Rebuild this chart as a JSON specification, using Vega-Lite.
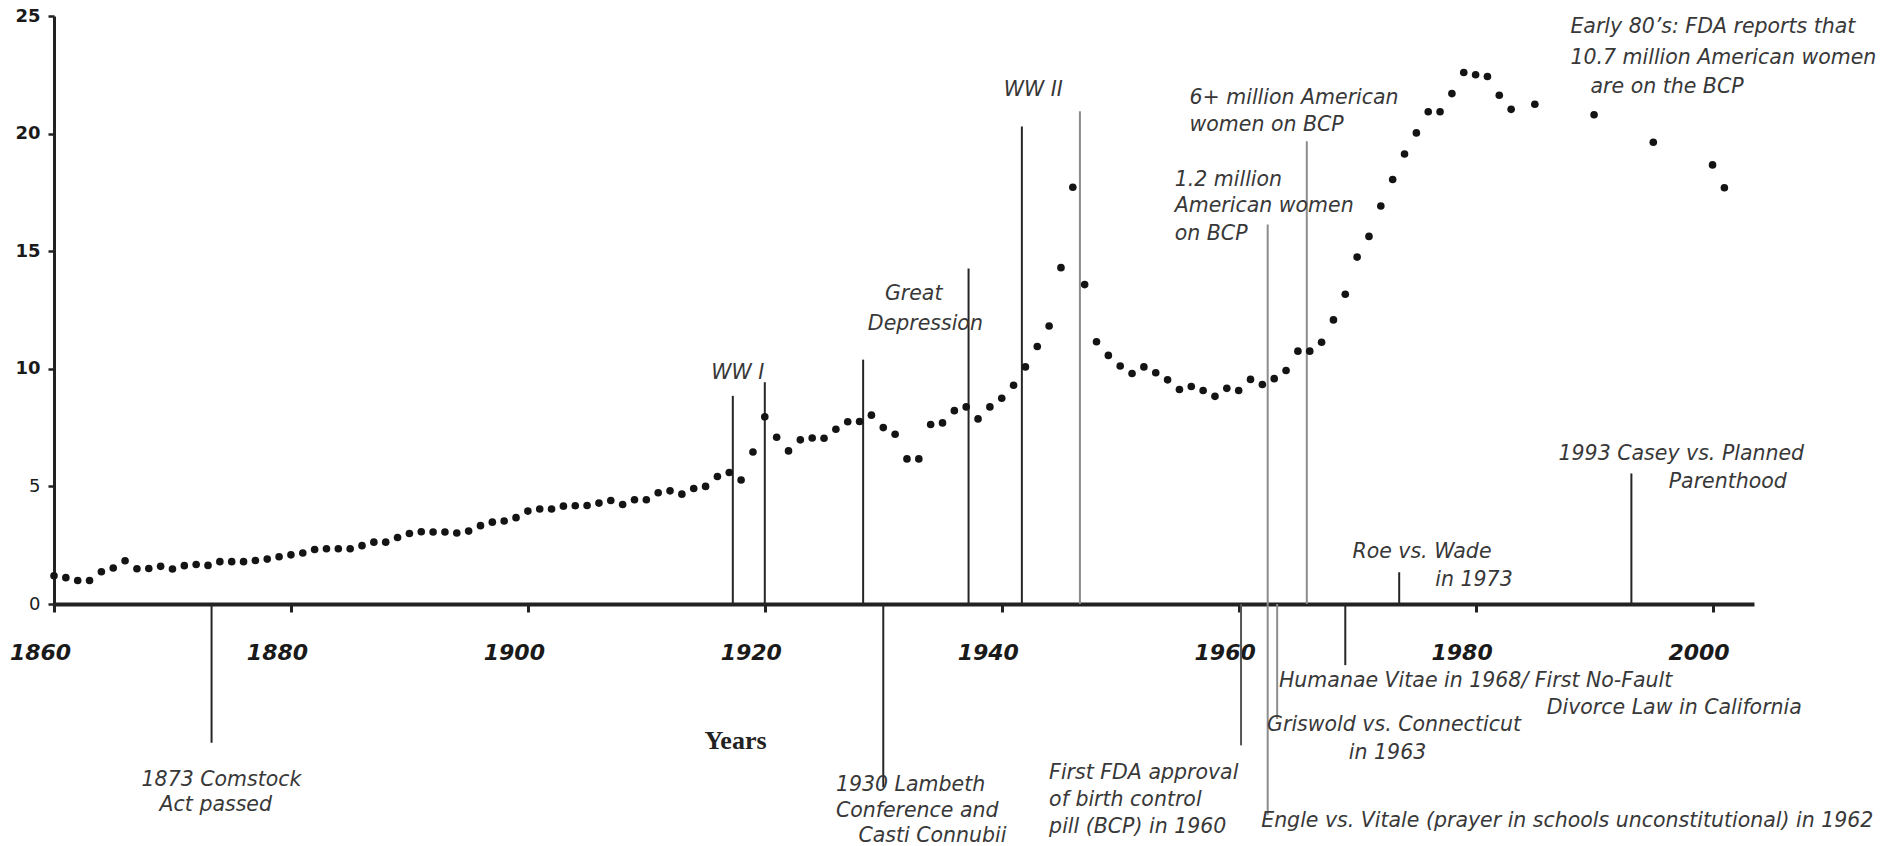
{
  "$schema": "https://vega.github.io/schema/vega-lite/v6.json",
  "width": 1700,
  "height": 588,
  "autosize": {"type": "none"},
  "padding": {"left": 54, "top": 16, "right": 126, "bottom": 242},
  "background": "white",
  "config": {"view": {"stroke": null}, "font": "DejaVu Sans"},
  "datasets": {
    "points": [
      {"year": 1860, "rate": 1.20}, {"year": 1861, "rate": 1.12}, {"year": 1862, "rate": 1.00}, {"year": 1863, "rate": 1.00},
      {"year": 1864, "rate": 1.37}, {"year": 1865, "rate": 1.53}, {"year": 1866, "rate": 1.84}, {"year": 1867, "rate": 1.50},
      {"year": 1868, "rate": 1.51}, {"year": 1869, "rate": 1.60}, {"year": 1870, "rate": 1.49}, {"year": 1871, "rate": 1.63},
      {"year": 1872, "rate": 1.68}, {"year": 1873, "rate": 1.64}, {"year": 1874, "rate": 1.80}, {"year": 1875, "rate": 1.80},
      {"year": 1876, "rate": 1.80}, {"year": 1877, "rate": 1.85}, {"year": 1878, "rate": 1.91}, {"year": 1879, "rate": 2.01},
      {"year": 1880, "rate": 2.09}, {"year": 1881, "rate": 2.17}, {"year": 1882, "rate": 2.32}, {"year": 1883, "rate": 2.35},
      {"year": 1884, "rate": 2.35}, {"year": 1885, "rate": 2.35}, {"year": 1886, "rate": 2.48}, {"year": 1887, "rate": 2.63},
      {"year": 1888, "rate": 2.63}, {"year": 1889, "rate": 2.83}, {"year": 1890, "rate": 3.00}, {"year": 1891, "rate": 3.07},
      {"year": 1892, "rate": 3.06}, {"year": 1893, "rate": 3.06}, {"year": 1894, "rate": 3.02}, {"year": 1895, "rate": 3.10},
      {"year": 1896, "rate": 3.33}, {"year": 1897, "rate": 3.48}, {"year": 1898, "rate": 3.53}, {"year": 1899, "rate": 3.67},
      {"year": 1900, "rate": 3.95}, {"year": 1901, "rate": 4.04}, {"year": 1902, "rate": 4.04}, {"year": 1903, "rate": 4.16},
      {"year": 1904, "rate": 4.18}, {"year": 1905, "rate": 4.19}, {"year": 1906, "rate": 4.29}, {"year": 1907, "rate": 4.40},
      {"year": 1908, "rate": 4.23}, {"year": 1909, "rate": 4.43}, {"year": 1910, "rate": 4.43}, {"year": 1911, "rate": 4.73},
      {"year": 1912, "rate": 4.81}, {"year": 1913, "rate": 4.67}, {"year": 1914, "rate": 4.91}, {"year": 1915, "rate": 5.00},
      {"year": 1916, "rate": 5.42}, {"year": 1917, "rate": 5.59}, {"year": 1918, "rate": 5.27}, {"year": 1919, "rate": 6.46},
      {"year": 1920, "rate": 7.96}, {"year": 1921, "rate": 7.09}, {"year": 1922, "rate": 6.51}, {"year": 1923, "rate": 6.98},
      {"year": 1924, "rate": 7.06}, {"year": 1925, "rate": 7.05}, {"year": 1926, "rate": 7.43}, {"year": 1927, "rate": 7.75},
      {"year": 1928, "rate": 7.76}, {"year": 1929, "rate": 8.03}, {"year": 1930, "rate": 7.50}, {"year": 1931, "rate": 7.22},
      {"year": 1932, "rate": 6.17}, {"year": 1933, "rate": 6.17}, {"year": 1934, "rate": 7.63}, {"year": 1935, "rate": 7.70},
      {"year": 1936, "rate": 8.22}, {"year": 1937, "rate": 8.38}, {"year": 1938, "rate": 7.87}, {"year": 1939, "rate": 8.38},
      {"year": 1940, "rate": 8.75}, {"year": 1941, "rate": 9.30}, {"year": 1942, "rate": 10.08}, {"year": 1943, "rate": 10.95},
      {"year": 1944, "rate": 11.82}, {"year": 1945, "rate": 14.30}, {"year": 1946, "rate": 17.72}, {"year": 1947, "rate": 13.58},
      {"year": 1948, "rate": 11.15}, {"year": 1949, "rate": 10.57}, {"year": 1950, "rate": 10.12}, {"year": 1951, "rate": 9.80},
      {"year": 1952, "rate": 10.08}, {"year": 1953, "rate": 9.83}, {"year": 1954, "rate": 9.53}, {"year": 1955, "rate": 9.12},
      {"year": 1956, "rate": 9.25}, {"year": 1957, "rate": 9.08}, {"year": 1958, "rate": 8.83}, {"year": 1959, "rate": 9.17},
      {"year": 1960, "rate": 9.08}, {"year": 1961, "rate": 9.55}, {"year": 1962, "rate": 9.33}, {"year": 1963, "rate": 9.58},
      {"year": 1964, "rate": 9.93}, {"year": 1965, "rate": 10.75}, {"year": 1966, "rate": 10.75}, {"year": 1967, "rate": 11.13},
      {"year": 1968, "rate": 12.08}, {"year": 1969, "rate": 13.17}, {"year": 1970, "rate": 14.75}, {"year": 1971, "rate": 15.63},
      {"year": 1972, "rate": 16.92}, {"year": 1973, "rate": 18.05}, {"year": 1974, "rate": 19.13}, {"year": 1975, "rate": 20.03},
      {"year": 1976, "rate": 20.93}, {"year": 1977, "rate": 20.93}, {"year": 1978, "rate": 21.70}, {"year": 1979, "rate": 22.60},
      {"year": 1980, "rate": 22.50}, {"year": 1981, "rate": 22.43}, {"year": 1982, "rate": 21.63}, {"year": 1983, "rate": 21.03},
      {"year": 1985, "rate": 21.25}, {"year": 1990, "rate": 20.80}, {"year": 1995, "rate": 19.63}, {"year": 2000, "rate": 18.67},
      {"year": 2001, "rate": 17.70}
    ],
    "events": [
      {"year": 1873.3, "top": 0, "bottom": -5.9, "tone": "dark"},
      {"year": 1917.3, "top": 8.85, "bottom": 0, "tone": "dark"},
      {"year": 1920.0, "top": 9.43, "bottom": 0, "tone": "dark"},
      {"year": 1928.3, "top": 10.39, "bottom": 0, "tone": "dark"},
      {"year": 1930.0, "top": 0, "bottom": -7.79, "tone": "dark"},
      {"year": 1937.2, "top": 14.26, "bottom": 0, "tone": "dark"},
      {"year": 1941.7, "top": 20.3, "bottom": 0, "tone": "dark"},
      {"year": 1946.6, "top": 20.95, "bottom": 0, "tone": "gray"},
      {"year": 1960.2, "top": 0, "bottom": -6.01, "tone": "mid"},
      {"year": 1962.45, "top": 16.14, "bottom": -8.97, "tone": "gray"},
      {"year": 1963.25, "top": 0, "bottom": -4.89, "tone": "gray"},
      {"year": 1965.75, "top": 19.67, "bottom": 0, "tone": "gray"},
      {"year": 1969.0, "top": 0, "bottom": -2.6, "tone": "dark"},
      {"year": 1973.55, "top": 1.35, "bottom": 0, "tone": "dark"},
      {"year": 1993.15, "top": 5.55, "bottom": 0, "tone": "dark"}
    ],
    "notes": [
      {"label": "WW I", "year": 1915.47, "value": 9.83},
      {"label": "Great", "year": 1930.14, "value": 13.19},
      {"label": "Depression", "year": 1928.7, "value": 11.92},
      {"label": "WW II", "year": 1940.16, "value": 21.85},
      {"label": "6+ million American", "year": 1955.85, "value": 21.5},
      {"label": "women on BCP", "year": 1955.85, "value": 20.38},
      {"label": "1.2 million", "year": 1954.6, "value": 18.03},
      {"label": "American women", "year": 1954.6, "value": 16.91},
      {"label": "on BCP", "year": 1954.6, "value": 15.74},
      {"label": "Early 80’s: FDA reports that", "year": 1988.0, "value": 24.55},
      {"label": "10.7 million American women", "year": 1988.0, "value": 23.23},
      {"label": "are on the BCP", "year": 1989.7, "value": 22.0},
      {"label": "1993 Casey vs. Planned", "year": 1987.0, "value": 6.37},
      {"label": "Parenthood", "year": 1996.3, "value": 5.2},
      {"label": "Roe vs. Wade", "year": 1969.6, "value": 2.19},
      {"label": "in 1973", "year": 1976.6, "value": 1.02},
      {"label": "1873 Comstock", "year": 1867.39, "value": -7.49},
      {"label": "Act passed", "year": 1868.91, "value": -8.56},
      {"label": "1930 Lambeth", "year": 1926.0, "value": -7.69},
      {"label": "Conference and", "year": 1926.0, "value": -8.81},
      {"label": "Casti Connubii", "year": 1927.9, "value": -9.88},
      {"label": "First FDA approval", "year": 1944.0, "value": -7.18},
      {"label": "of birth control", "year": 1944.0, "value": -8.35},
      {"label": "pill (BCP) in 1960", "year": 1944.0, "value": -9.48},
      {"label": "Humanae Vitae in 1968/ First No-Fault", "year": 1963.4, "value": -3.26},
      {"label": "Divorce Law in California", "year": 1986.0, "value": -4.43},
      {"label": "Griswold vs. Connecticut", "year": 1962.4, "value": -5.15},
      {"label": "in 1963", "year": 1969.3, "value": -6.32},
      {"label": "Engle vs. Vitale (prayer in schools unconstitutional) in 1962", "year": 1961.9, "value": -9.22}
    ]
  },
  "layer": [
    {
      "data": {"name": "events"},
      "mark": {"type": "rule", "strokeWidth": 2},
      "encoding": {
        "x": {
          "field": "year", "type": "quantitative",
          "scale": {"domain": [1860, 2003.5], "nice": false, "zero": false},
          "axis": {
            "values": [1860, 1880, 1900, 1920, 1940, 1960, 1980, 2000],
            "format": "d",
            "title": "Years",
            "titleFont": "Liberation Serif", "titleFontSize": 26, "titleFontWeight": "bold", "titleColor": "#222",
            "titleX": 681, "titleY": 136, "titleAlign": "center", "titleBaseline": "middle", "titleAnchor": null,
            "labelFont": "DejaVu Sans", "labelFontSize": 22, "labelFontWeight": "bold", "labelFontStyle": "italic",
            "labelColor": "#1a1a1a", "labelPadding": 30, "labelOffset": -14, "labelFlush": false, "labelOverlap": false,
            "domainColor": "#222", "domainWidth": 4, "tickColor": "#222", "tickWidth": 3, "tickSize": 8, "grid": false
          }
        },
        "y": {
          "field": "top", "type": "quantitative",
          "scale": {"domain": [0, 25], "nice": false, "zero": false},
          "axis": {
            "values": [0, 5, 10, 15, 20, 25],
            "title": null,
            "labelFont": "DejaVu Sans", "labelFontSize": 18,
            "labelFontWeight": {"condition": {"test": "datum.value < 10", "value": "normal"}, "value": "bold"},
            "labelColor": "#1a1a1a", "labelPadding": 8,
            "domainColor": "#222", "domainWidth": 3, "tickColor": "#222", "tickWidth": 2.5, "tickSize": 6, "grid": false
          }
        },
        "y2": {"field": "bottom"},
        "color": {
          "field": "tone", "type": "nominal",
          "scale": {"domain": ["dark", "mid", "gray"], "range": ["#262626", "#555555", "#8c8c8c"]},
          "legend": null
        }
      }
    },
    {
      "data": {"name": "points"},
      "mark": {"type": "point", "filled": true, "size": 58, "color": "#141414", "opacity": 1},
      "encoding": {
        "x": {"field": "year", "type": "quantitative"},
        "y": {"field": "rate", "type": "quantitative"}
      }
    },
    {
      "data": {"name": "notes"},
      "mark": {"type": "text", "font": "DejaVu Sans", "fontStyle": "italic", "fontSize": 20.5, "align": "left", "baseline": "middle", "color": "#383838"},
      "encoding": {
        "x": {"field": "year", "type": "quantitative"},
        "y": {"field": "value", "type": "quantitative"},
        "text": {"field": "label"}
      }
    }
  ]
}
